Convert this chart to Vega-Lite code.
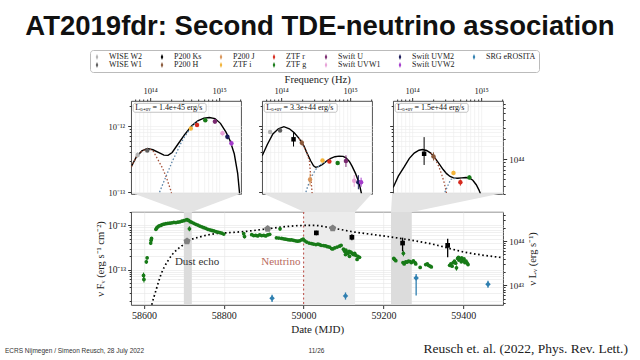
{
"$schema": "https://vega.github.io/schema/vega-lite/v6.json",
"background": "white",
"padding": {"left": 5, "right": 5, "top": 13, "bottom": 0},
"title": {"text": "AT2019fdr: Second TDE-neutrino association", "font": "Liberation Sans", "fontSize": 27.5, "fontWeight": "bold", "color": "#111111", "anchor": "middle", "offset": 9, "dx": -15},
"center": true,
"spacing": -8,
"datasets": {
"sed": [
{"p":1,"inst":"WISE W2","nu":6.6e13,"f":3.63e-13,"lo":3.3e-13,"hi":4.0e-13},
{"p":1,"inst":"WISE W1","nu":9.1e13,"f":4.27e-13},
{"p":1,"inst":"ZTF i","nu":3.89e14,"f":9.2e-13},
{"p":1,"inst":"ZTF r","nu":4.79e14,"f":1.035e-12},
{"p":1,"inst":"ZTF g","nu":6.31e14,"f":1.23e-12},
{"p":1,"inst":"Swift U","nu":8.71e14,"f":1.175e-12,"lo":1.08e-12,"hi":1.28e-12},
{"p":1,"inst":"Swift UVW1","nu":1.12e15,"f":7.8e-13,"lo":7.2e-13,"hi":8.5e-13},
{"p":1,"inst":"Swift UVM2","nu":1.32e15,"f":6.9e-13,"lo":6.3e-13,"hi":7.6e-13},
{"p":1,"inst":"Swift UVW2","nu":1.51e15,"f":5.5e-13,"lo":5.0e-13,"hi":6.0e-13},
{"p":2,"inst":"WISE W2","nu":6.92e13,"f":8.1e-13},
{"p":2,"inst":"WISE W1","nu":9.66e13,"f":8.6e-13},
{"p":2,"inst":"P200 Ks","nu":1.514e14,"f":6.3e-13,"lo":4.9e-13,"hi":8.1e-13},
{"p":2,"inst":"P200 H","nu":1.995e14,"f":5.6e-13,"lo":5.1e-13,"hi":6.2e-13},
{"p":2,"inst":"P200 J","nu":2.63e14,"f":1.55e-13,"lo":1.25e-13,"hi":1.9e-13},
{"p":2,"inst":"ZTF i","nu":3.98e14,"f":3.0e-13},
{"p":2,"inst":"ZTF r","nu":5.01e14,"f":2.9e-13},
{"p":2,"inst":"ZTF g","nu":6.61e14,"f":2.75e-13},
{"p":2,"inst":"Swift U","nu":8.71e14,"f":2.95e-13,"lo":2.4e-13,"hi":3.6e-13},
{"p":2,"inst":"Swift UVW1","nu":1.148e15,"f":1.48e-13,"lo":1.2e-13,"hi":1.8e-13},
{"p":2,"inst":"Swift UVM2","nu":1.318e15,"f":1.41e-13,"lo":1.1e-13,"hi":1.8e-13},
{"p":2,"inst":"Swift UVW2","nu":1.445e15,"f":1.41e-13,"lo":1.2e-13,"hi":1.65e-13},
{"p":3,"inst":"P200 Ks","nu":1.493e14,"f":3.8e-13,"lo":2.57e-13,"hi":6.8e-13},
{"p":3,"inst":"P200 H","nu":2.04e14,"f":3.47e-13,"lo":3.0e-13,"hi":4.0e-13},
{"p":3,"inst":"ZTF i","nu":3.98e14,"f":1.95e-13,"lo":1.8e-13,"hi":2.1e-13},
{"p":3,"inst":"ZTF r","nu":5.01e14,"f":1.41e-13,"lo":1.25e-13,"hi":1.55e-13},
{"p":3,"inst":"ZTF g","nu":6.76e14,"f":1.66e-13,"lo":1.55e-13,"hi":1.78e-13}
],
"curves": [
{"p":1,"c":"tot","nu":5.31e13,"f":2.4e-13},{"p":1,"c":"tot","nu":6.31e13,"f":3.4e-13},{"p":1,"c":"tot","nu":7.59e13,"f":4.2e-13},{"p":1,"c":"tot","nu":9.12e13,"f":4.57e-13},{"p":1,"c":"tot","nu":1.096e14,"f":4.37e-13},{"p":1,"c":"tot","nu":1.318e14,"f":3.98e-13},{"p":1,"c":"tot","nu":1.585e14,"f":3.63e-13},{"p":1,"c":"tot","nu":1.82e14,"f":3.6e-13},{"p":1,"c":"tot","nu":2.089e14,"f":3.98e-13},{"p":1,"c":"tot","nu":2.512e14,"f":5.25e-13},{"p":1,"c":"tot","nu":3.162e14,"f":7.4e-13},{"p":1,"c":"tot","nu":3.981e14,"f":1.0e-12},{"p":1,"c":"tot","nu":4.898e14,"f":1.2e-12},{"p":1,"c":"tot","nu":6.026e14,"f":1.32e-12},{"p":1,"c":"tot","nu":7.244e14,"f":1.35e-12},{"p":1,"c":"tot","nu":8.71e14,"f":1.3e-12},{"p":1,"c":"tot","nu":1.047e15,"f":1.1e-12},{"p":1,"c":"tot","nu":1.259e15,"f":8.1e-13},{"p":1,"c":"tot","nu":1.445e15,"f":6.0e-13},{"p":1,"c":"tot","nu":1.66e15,"f":3.8e-13},{"p":1,"c":"tot","nu":1.862e15,"f":1.9e-13},{"p":1,"c":"tot","nu":1.995e15,"f":8.9e-14},
{"p":1,"c":"dust","nu":5.31e13,"f":2.4e-13},{"p":1,"c":"dust","nu":6.31e13,"f":3.4e-13},{"p":1,"c":"dust","nu":7.59e13,"f":4.2e-13},{"p":1,"c":"dust","nu":9.12e13,"f":4.55e-13},{"p":1,"c":"dust","nu":1.096e14,"f":4.27e-13},{"p":1,"c":"dust","nu":1.318e14,"f":3.0e-13},{"p":1,"c":"dust","nu":1.514e14,"f":2.3e-13},{"p":1,"c":"dust","nu":1.738e14,"f":1.62e-13},{"p":1,"c":"dust","nu":1.995e14,"f":1.05e-13},{"p":1,"c":"dust","nu":2.138e14,"f":7.9e-14},
{"p":1,"c":"opt","nu":1.259e14,"f":7.9e-14},{"p":1,"c":"opt","nu":1.349e14,"f":9.5e-14},{"p":1,"c":"opt","nu":1.585e14,"f":1.45e-13},{"p":1,"c":"opt","nu":1.82e14,"f":2.04e-13},{"p":1,"c":"opt","nu":2.089e14,"f":2.9e-13},{"p":1,"c":"opt","nu":2.399e14,"f":3.9e-13},{"p":1,"c":"opt","nu":2.818e14,"f":5.6e-13},{"p":1,"c":"opt","nu":3.162e14,"f":6.9e-13},{"p":1,"c":"opt","nu":3.981e14,"f":9.8e-13},{"p":1,"c":"opt","nu":4.898e14,"f":1.19e-12},
{"p":2,"c":"tot","nu":5.31e13,"f":3.55e-13},{"p":2,"c":"tot","nu":6.31e13,"f":5.25e-13},{"p":2,"c":"tot","nu":7.59e13,"f":7.6e-13},{"p":2,"c":"tot","nu":9.12e13,"f":9.1e-13},{"p":2,"c":"tot","nu":1.096e14,"f":9.8e-13},{"p":2,"c":"tot","nu":1.318e14,"f":9.1e-13},{"p":2,"c":"tot","nu":1.549e14,"f":7.9e-13},{"p":2,"c":"tot","nu":1.82e14,"f":6.5e-13},{"p":2,"c":"tot","nu":2.138e14,"f":5.0e-13},{"p":2,"c":"tot","nu":2.399e14,"f":3.8e-13},{"p":2,"c":"tot","nu":2.692e14,"f":2.95e-13},{"p":2,"c":"tot","nu":2.951e14,"f":2.5e-13},{"p":2,"c":"tot","nu":3.162e14,"f":2.37e-13},{"p":2,"c":"tot","nu":3.548e14,"f":2.45e-13},{"p":2,"c":"tot","nu":3.981e14,"f":2.63e-13},{"p":2,"c":"tot","nu":4.571e14,"f":2.95e-13},{"p":2,"c":"tot","nu":5.248e14,"f":3.24e-13},{"p":2,"c":"tot","nu":6.026e14,"f":3.43e-13},{"p":2,"c":"tot","nu":6.918e14,"f":3.5e-13},{"p":2,"c":"tot","nu":7.943e14,"f":3.47e-13},{"p":2,"c":"tot","nu":8.71e14,"f":3.3e-13},{"p":2,"c":"tot","nu":9.772e14,"f":2.9e-13},{"p":2,"c":"tot","nu":1.072e15,"f":2.45e-13},{"p":2,"c":"tot","nu":1.202e15,"f":1.9e-13},{"p":2,"c":"tot","nu":1.349e15,"f":1.38e-13},{"p":2,"c":"tot","nu":1.445e15,"f":1.0e-13},{"p":2,"c":"tot","nu":1.549e15,"f":7.1e-14},
{"p":2,"c":"dust","nu":1.82e14,"f":6.5e-13},{"p":2,"c":"dust","nu":2.138e14,"f":4.9e-13},{"p":2,"c":"dust","nu":2.399e14,"f":3.7e-13},{"p":2,"c":"dust","nu":2.57e14,"f":2.95e-13},{"p":2,"c":"dust","nu":2.692e14,"f":1.7e-13},{"p":2,"c":"dust","nu":2.818e14,"f":9.5e-14},{"p":2,"c":"dust","nu":2.884e14,"f":7.5e-14},
{"p":2,"c":"opt","nu":2.138e14,"f":7.9e-14},{"p":2,"c":"opt","nu":2.399e14,"f":1.17e-13},{"p":2,"c":"opt","nu":2.692e14,"f":1.62e-13},{"p":2,"c":"opt","nu":3.162e14,"f":2.19e-13},{"p":2,"c":"opt","nu":3.548e14,"f":2.5e-13},{"p":2,"c":"opt","nu":3.981e14,"f":2.7e-13},{"p":2,"c":"opt","nu":4.571e14,"f":2.95e-13},
{"p":3,"c":"tot","nu":5.31e13,"f":1.17e-13},{"p":3,"c":"tot","nu":6.31e13,"f":1.74e-13},{"p":3,"c":"tot","nu":7.674e13,"f":2.4e-13},{"p":3,"c":"tot","nu":9.12e13,"f":3.24e-13},{"p":3,"c":"tot","nu":1.072e14,"f":3.9e-13},{"p":3,"c":"tot","nu":1.259e14,"f":4.3e-13},{"p":3,"c":"tot","nu":1.413e14,"f":4.4e-13},{"p":3,"c":"tot","nu":1.622e14,"f":4.27e-13},{"p":3,"c":"tot","nu":1.862e14,"f":3.9e-13},{"p":3,"c":"tot","nu":2.138e14,"f":3.3e-13},{"p":3,"c":"tot","nu":2.455e14,"f":2.7e-13},{"p":3,"c":"tot","nu":2.818e14,"f":2.19e-13},{"p":3,"c":"tot","nu":3.162e14,"f":1.9e-13},{"p":3,"c":"tot","nu":3.548e14,"f":1.72e-13},{"p":3,"c":"tot","nu":3.981e14,"f":1.64e-13},{"p":3,"c":"tot","nu":4.571e14,"f":1.62e-13},{"p":3,"c":"tot","nu":5.248e14,"f":1.64e-13},{"p":3,"c":"tot","nu":6.026e14,"f":1.66e-13},{"p":3,"c":"tot","nu":6.761e14,"f":1.64e-13},{"p":3,"c":"tot","nu":7.586e14,"f":1.51e-13},{"p":3,"c":"tot","nu":8.511e14,"f":1.29e-13},{"p":3,"c":"tot","nu":9.333e14,"f":1.07e-13},{"p":3,"c":"tot","nu":1.0e15,"f":8.9e-14},
{"p":3,"c":"dust","nu":1.862e14,"f":3.9e-13},{"p":3,"c":"dust","nu":2.138e14,"f":3.24e-13},{"p":3,"c":"dust","nu":2.455e14,"f":2.4e-13},{"p":3,"c":"dust","nu":2.692e14,"f":1.82e-13},{"p":3,"c":"dust","nu":2.884e14,"f":1.45e-13},{"p":3,"c":"dust","nu":3.09e14,"f":1.07e-13},{"p":3,"c":"dust","nu":3.236e14,"f":8.3e-14},
{"p":3,"c":"opt","nu":2.754e14,"f":7.9e-14},{"p":3,"c":"opt","nu":2.884e14,"f":9.1e-14},{"p":3,"c":"opt","nu":3.236e14,"f":1.2e-13},{"p":3,"c":"opt","nu":3.631e14,"f":1.55e-13},{"p":3,"c":"opt","nu":3.981e14,"f":1.6e-13},{"p":3,"c":"opt","nu":4.571e14,"f":1.62e-13}
],
"labs": [
{"p":1,"txt":"Lₒ₊ᵤᵥ = 1.4e+45 erg/s"},
{"p":2,"txt":"Lₒ₊ᵤᵥ = 3.3e+44 erg/s"},
{"p":3,"txt":"Lₒ₊ᵤᵥ = 1.5e+44 erg/s"}
],
"lc": [
{"inst":"ZTF g","mjd":58599,"F":7.4e-14,"lo":6.3e-14,"hi":8.6e-14},
{"inst":"ZTF g","mjd":58600,"F":6.0e-14,"lo":5.1e-14,"hi":7.0e-14},
{"inst":"ZTF g","mjd":58606,"F":1.5e-13,"lo":1.35e-13,"hi":1.68e-13},
{"inst":"ZTF g","mjd":58608,"F":1.85e-13,"lo":1.7e-13,"hi":2.0e-13},
{"inst":"ZTF g","mjd":58617,"F":4.0e-13,"lo":3.6e-13,"hi":4.45e-13},
{"inst":"ZTF g","mjd":58618,"F":4.6e-13},
{"inst":"ZTF g","mjd":58619,"F":5.1e-13,"lo":4.7e-13,"hi":5.5e-13},
{"inst":"ZTF g","mjd":58630,"F":8.2e-13},{"inst":"ZTF g","mjd":58632,"F":8.8e-13},{"inst":"ZTF g","mjd":58635,"F":9.3e-13},{"inst":"ZTF g","mjd":58638,"F":9.8e-13},{"inst":"ZTF g","mjd":58642,"F":1.0e-12},{"inst":"ZTF g","mjd":58646,"F":1.05e-12},{"inst":"ZTF g","mjd":58650,"F":1.07e-12},{"inst":"ZTF g","mjd":58655,"F":1.1e-12},{"inst":"ZTF g","mjd":58660,"F":1.12e-12},{"inst":"ZTF g","mjd":58665,"F":1.13e-12},{"inst":"ZTF g","mjd":58670,"F":1.15e-12},{"inst":"ZTF g","mjd":58675,"F":1.17e-12},{"inst":"ZTF g","mjd":58680,"F":1.16e-12},{"inst":"ZTF g","mjd":58685,"F":1.19e-12},{"inst":"ZTF g","mjd":58690,"F":1.21e-12},{"inst":"ZTF g","mjd":58695,"F":1.25e-12},{"inst":"ZTF g","mjd":58700,"F":1.28e-12},{"inst":"ZTF g","mjd":58705,"F":1.33e-12},{"inst":"ZTF g","mjd":58708,"F":1.36e-12},{"inst":"ZTF g","mjd":58712,"F":1.3e-12},
{"inst":"ZTF g","mjd":58714,"F":8.4e-13,"lo":7.4e-13,"hi":9.6e-13},
{"inst":"ZTF g","mjd":58716,"F":1.22e-12},{"inst":"ZTF g","mjd":58720,"F":1.18e-12},{"inst":"ZTF g","mjd":58725,"F":1.12e-12},{"inst":"ZTF g","mjd":58730,"F":1.06e-12},{"inst":"ZTF g","mjd":58735,"F":1.02e-12},{"inst":"ZTF g","mjd":58740,"F":9.7e-13},{"inst":"ZTF g","mjd":58745,"F":9.3e-13},{"inst":"ZTF g","mjd":58750,"F":8.9e-13},{"inst":"ZTF g","mjd":58755,"F":8.6e-13},{"inst":"ZTF g","mjd":58760,"F":8.2e-13},{"inst":"ZTF g","mjd":58765,"F":8.0e-13},{"inst":"ZTF g","mjd":58770,"F":7.7e-13},{"inst":"ZTF g","mjd":58775,"F":7.5e-13},{"inst":"ZTF g","mjd":58780,"F":7.3e-13},{"inst":"ZTF g","mjd":58785,"F":7.1e-13},{"inst":"ZTF g","mjd":58790,"F":6.9e-13},{"inst":"ZTF g","mjd":58795,"F":6.7e-13},{"inst":"ZTF g","mjd":58800,"F":6.4e-13},
{"inst":"ZTF g","mjd":58850,"F":6.5e-13},
{"inst":"ZTF g","mjd":58852,"F":5.6e-13,"lo":5.1e-13,"hi":6.1e-13},
{"inst":"ZTF g","mjd":58870,"F":6.2e-13},{"inst":"ZTF g","mjd":58875,"F":5.9e-13},{"inst":"ZTF g","mjd":58880,"F":6.0e-13},{"inst":"ZTF g","mjd":58885,"F":5.8e-13},{"inst":"ZTF g","mjd":58890,"F":6.1e-13},{"inst":"ZTF g","mjd":58895,"F":5.9e-13},{"inst":"ZTF g","mjd":58900,"F":6.0e-13},{"inst":"ZTF g","mjd":58905,"F":5.8e-13},{"inst":"ZTF g","mjd":58910,"F":6.1e-13},{"inst":"ZTF g","mjd":58915,"F":6.3e-13},
{"inst":"ZTF g","mjd":58941,"F":8.4e-13,"lo":7.6e-13,"hi":9.2e-13},
{"inst":"ZTF g","mjd":58932,"F":5.25e-13},{"inst":"ZTF g","mjd":58938,"F":5.2e-13},{"inst":"ZTF g","mjd":58945,"F":5.1e-13},{"inst":"ZTF g","mjd":58950,"F":5.0e-13},{"inst":"ZTF g","mjd":58955,"F":4.9e-13},{"inst":"ZTF g","mjd":58960,"F":4.8e-13},{"inst":"ZTF g","mjd":58965,"F":4.7e-13},{"inst":"ZTF g","mjd":58970,"F":4.7e-13},{"inst":"ZTF g","mjd":58975,"F":4.6e-13},{"inst":"ZTF g","mjd":58980,"F":4.5e-13},{"inst":"ZTF g","mjd":58985,"F":4.4e-13},{"inst":"ZTF g","mjd":58990,"F":4.5e-13},{"inst":"ZTF g","mjd":58995,"F":4.7e-13},{"inst":"ZTF g","mjd":58999,"F":4.9e-13},{"inst":"ZTF g","mjd":59003,"F":4.5e-13},{"inst":"ZTF g","mjd":59008,"F":4.2e-13},{"inst":"ZTF g","mjd":59014,"F":4.0e-13},{"inst":"ZTF g","mjd":59020,"F":3.9e-13},{"inst":"ZTF g","mjd":59025,"F":3.8e-13},{"inst":"ZTF g","mjd":59031,"F":3.7e-13},{"inst":"ZTF g","mjd":59036,"F":3.8e-13},{"inst":"ZTF g","mjd":59040,"F":3.7e-13},{"inst":"ZTF g","mjd":59044,"F":3.55e-13},{"inst":"ZTF g","mjd":59050,"F":3.5e-13},{"inst":"ZTF g","mjd":59055,"F":3.45e-13},{"inst":"ZTF g","mjd":59060,"F":3.3e-13},{"inst":"ZTF g","mjd":59065,"F":3.25e-13},{"inst":"ZTF g","mjd":59070,"F":3.0e-13},{"inst":"ZTF g","mjd":59073,"F":2.95e-13},{"inst":"ZTF g","mjd":59078,"F":3.1e-13},{"inst":"ZTF g","mjd":59084,"F":3.25e-13},{"inst":"ZTF g","mjd":59090,"F":3.4e-13},{"inst":"ZTF g","mjd":59094,"F":3.55e-13},
{"inst":"ZTF g","mjd":59100,"F":2.9e-13},{"inst":"ZTF g","mjd":59103,"F":2.6e-13},{"inst":"ZTF g","mjd":59105,"F":2.2e-13},{"inst":"ZTF g","mjd":59106,"F":2.75e-13},{"inst":"ZTF g","mjd":59109,"F":2.4e-13},{"inst":"ZTF g","mjd":59111,"F":2.3e-13},{"inst":"ZTF g","mjd":59114,"F":2.6e-13},{"inst":"ZTF g","mjd":59115,"F":2.0e-13},{"inst":"ZTF g","mjd":59117,"F":2.5e-13},{"inst":"ZTF g","mjd":59119,"F":2.45e-13},{"inst":"ZTF g","mjd":59122,"F":2.3e-13},{"inst":"ZTF g","mjd":59125,"F":2.2e-13},{"inst":"ZTF g","mjd":59128,"F":2.35e-13},{"inst":"ZTF g","mjd":59131,"F":2.1e-13},{"inst":"ZTF g","mjd":59134,"F":1.7e-13},{"inst":"ZTF g","mjd":59136,"F":2.0e-13},{"inst":"ZTF g","mjd":59140,"F":1.9e-13},
{"inst":"ZTF g","mjd":59226,"F":1.8e-13},{"inst":"ZTF g","mjd":59228,"F":1.7e-13},{"inst":"ZTF g","mjd":59231,"F":1.6e-13},{"inst":"ZTF g","mjd":59249,"F":1.45e-13},
{"inst":"ZTF g","mjd":59250,"F":2.35e-13,"lo":2.0e-13,"hi":2.7e-13},
{"inst":"ZTF g","mjd":59252,"F":1.35e-13},{"inst":"ZTF g","mjd":59256,"F":1.5e-13},{"inst":"ZTF g","mjd":59259,"F":1.48e-13},{"inst":"ZTF g","mjd":59263,"F":1.55e-13},{"inst":"ZTF g","mjd":59267,"F":1.52e-13},{"inst":"ZTF g","mjd":59270,"F":1.45e-13},{"inst":"ZTF g","mjd":59275,"F":1.58e-13},{"inst":"ZTF g","mjd":59279,"F":1.45e-13},{"inst":"ZTF g","mjd":59281,"F":1.35e-13},{"inst":"ZTF g","mjd":59292,"F":1.12e-13},{"inst":"ZTF g","mjd":59306,"F":1.3e-13},{"inst":"ZTF g","mjd":59310,"F":1.35e-13},{"inst":"ZTF g","mjd":59313,"F":1.25e-13},{"inst":"ZTF g","mjd":59317,"F":1.2e-13},{"inst":"ZTF g","mjd":59320,"F":1.15e-13},
{"inst":"ZTF g","mjd":59366,"F":1.25e-13},{"inst":"ZTF g","mjd":59369,"F":1.35e-13},{"inst":"ZTF g","mjd":59372,"F":1.2e-13},{"inst":"ZTF g","mjd":59375,"F":1.45e-13},{"inst":"ZTF g","mjd":59378,"F":1.55e-13},{"inst":"ZTF g","mjd":59381,"F":1.4e-13},
{"inst":"ZTF g","mjd":59383,"F":1.1e-13,"lo":0.95e-13,"hi":1.25e-13},
{"inst":"ZTF g","mjd":59386,"F":1.8e-13},{"inst":"ZTF g","mjd":59388,"F":1.9e-13},{"inst":"ZTF g","mjd":59389,"F":1.65e-13},{"inst":"ZTF g","mjd":59392,"F":1.75e-13},{"inst":"ZTF g","mjd":59395,"F":1.5e-13},{"inst":"ZTF g","mjd":59396,"F":1.85e-13},{"inst":"ZTF g","mjd":59398,"F":1.7e-13},{"inst":"ZTF g","mjd":59401,"F":1.6e-13},{"inst":"ZTF g","mjd":59402,"F":1.75e-13},{"inst":"ZTF g","mjd":59404,"F":1.45e-13},{"inst":"ZTF g","mjd":59407,"F":1.55e-13},{"inst":"ZTF g","mjd":59410,"F":1.4e-13},{"inst":"ZTF g","mjd":59412,"F":1.3e-13},
{"inst":"WISE","mjd":58708,"F":4.4e-13},{"inst":"WISE","mjd":58910,"F":8.4e-13},{"inst":"WISE","mjd":59073,"F":8.7e-13},
{"inst":"P200 Ks","mjd":59032,"F":6.8e-13,"lo":6.0e-13,"hi":7.6e-13},
{"inst":"P200 Ks","mjd":59121,"F":5.4e-13,"lo":4.6e-13,"hi":6.3e-13},
{"inst":"P200 Ks","mjd":59248,"F":4.0e-13,"lo":2.6e-13,"hi":5.3e-13},
{"inst":"P200 Ks","mjd":59361,"F":3.55e-13,"lo":1.9e-13,"hi":5.0e-13},
{"inst":"SRG eROSITA","mjd":58921,"F":2.25e-14,"lo":1.85e-14,"hi":2.7e-14},
{"inst":"SRG eROSITA","mjd":59105,"F":2.55e-14,"lo":2.1e-14,"hi":3.05e-14},
{"inst":"SRG eROSITA","mjd":59282,"F":6.5e-14,"lo":2.6e-14,"hi":8.0e-14},
{"inst":"SRG eROSITA","mjd":59462,"F":4.7e-14,"lo":3.9e-14,"hi":5.6e-14}
],
"model": [
{"mjd":58617,"F":1.3e-14},{"mjd":58620,"F":1.66e-14},{"mjd":58625,"F":2.4e-14},{"mjd":58631,"F":3.6e-14},{"mjd":58643,"F":7.9e-14},{"mjd":58650,"F":1.1e-13},{"mjd":58660,"F":1.58e-13},{"mjd":58670,"F":2.14e-13},{"mjd":58685,"F":2.95e-13},{"mjd":58695,"F":3.47e-13},{"mjd":58710,"F":4.4e-13},{"mjd":58743,"F":5.6e-13},{"mjd":58777,"F":6.5e-13},{"mjd":58810,"F":6.85e-13},{"mjd":58852,"F":7.3e-13},{"mjd":58910,"F":8.4e-13},{"mjd":58960,"F":9.5e-13},{"mjd":59000,"F":1.0e-12},{"mjd":59027,"F":1.0e-12},{"mjd":59073,"F":8.7e-13},{"mjd":59128,"F":7.1e-13},{"mjd":59194,"F":5.9e-13},{"mjd":59248,"F":5.0e-13},{"mjd":59319,"F":3.85e-13},{"mjd":59403,"F":2.5e-13},{"mjd":59500,"F":1.86e-13}
],
"bands": [
{"s":58700,"e":58720,"k":"a"},{"s":59002,"e":59129,"k":"b"},{"s":59219,"e":59271,"k":"a"}
],
"trap": [
{"id":1,"F":5.37e-12,"a":58572,"b":58845},{"id":1,"F":2.02e-12,"a":58700,"b":58720},
{"id":2,"F":5.37e-12,"a":58897,"b":59172},{"id":2,"F":2.02e-12,"a":59002,"b":59129},
{"id":3,"F":5.37e-12,"a":59222,"b":59497},{"id":3,"F":2.02e-12,"a":59219,"b":59271}
],
"notes": [
{"lab":"Dust echo","mjd":58733,"F":1.48e-13,"kind":"dust"},
{"lab":"Neutrino","mjd":58992,"F":1.48e-13,"kind":"nu"}
]
},
"vconcat": [
{
"bounds": "flush",
"spacing": 21,
"hconcat": [
{
"width": 110, "height": 93,
"layer": [
{"data":{"name":"curves"},"transform":[{"filter":"datum.p==1 && datum.c=='tot'"}],"mark":{"type":"line","color":"#000000","strokeWidth":1.4,"clip":true},
"encoding":{
"x":{"field":"nu","type":"quantitative","scale":{"type":"log","domain":[5.31e13,2.09e15],"nice":false},"axis":{"orient":"top","values":[6e13,7e13,8e13,9e13,1e14,2e14,3e14,4e14,5e14,6e14,7e14,8e14,9e14,1e15,2e15],"labelExpr":"datum.value==1e14?'10¹⁴':datum.value==1e15?'10¹⁵':''","title":null,"labelFontSize":8.5,"labelPadding":2,"labelOverlap":false,"tickSize":{"condition":{"test":"datum.value==1e14||datum.value==1e15","value":3.5},"value":2},"gridColor":"#ececec"}},
"y":{"field":"f","type":"quantitative","scale":{"type":"log","domain":[9.33e-14,2.4e-12],"nice":false},"axis":{"values":[1e-13,2e-13,3e-13,4e-13,5e-13,6e-13,7e-13,8e-13,9e-13,1e-12,2e-12],"labelExpr":"datum.value==1e-12?'10⁻¹²':datum.value==1e-13?'10⁻¹³':''","title":null,"labelFontSize":8.5,"labelPadding":3,"labelOverlap":false,"tickSize":{"condition":{"test":"datum.value==1e-12||datum.value==1e-13","value":3.5},"value":2},"gridColor":"#ececec"}}}},
{"data":{"name":"curves"},"transform":[{"filter":"datum.p==1 && datum.c=='dust'"}],"mark":{"type":"line","color":"#a5523a","strokeDash":[1.5,2],"strokeWidth":1.3,"clip":true},"encoding":{"x":{"field":"nu","type":"quantitative"},"y":{"field":"f","type":"quantitative"}}},
{"data":{"name":"curves"},"transform":[{"filter":"datum.p==1 && datum.c=='opt'"}],"mark":{"type":"line","color":"#5b84a8","strokeDash":[1.5,2],"strokeWidth":1.3,"clip":true},"encoding":{"x":{"field":"nu","type":"quantitative"},"y":{"field":"f","type":"quantitative"}}},
{"data":{"name":"sed"},"transform":[{"filter":"datum.p==1"}],"mark":{"type":"point","filled":true,"size":20,"opacity":1},"encoding":{"x":{"field":"nu","type":"quantitative"},"y":{"field":"f","type":"quantitative"},
"color":{"field":"inst","type":"nominal","scale":{"domain":["WISE W2","P200 Ks","P200 J","ZTF r","Swift U","Swift UVM2","SRG eROSITA","WISE W1","P200 H","ZTF i","ZTF g","Swift UVW1","Swift UVW2"],"range":["#b3b3b3","#000000","#d9955a","#d62b1f","#7a2a70","#1c1a5a","#2f7fb0","#5f5f5f","#8b5a3c","#f2b43a","#177a17","#e8a2d8","#a53ccc"]},"legend":{"title":null,"orient":"none","legendX":85,"legendY":-51,"direction":"horizontal","columns":7,"labelFont":"Liberation Serif","labelFontSize":8,"labelColor":"#222222","symbolType":"M0,-1L0.42,0L0,1L-0.42,0Z","symbolSize":35,"symbolStrokeWidth":0,"columnPadding":15,"rowPadding":0,"padding":3,"strokeColor":"#bbbbbb","fillColor":"#ffffff","cornerRadius":3,"labelOffset":8}},
"shape":{"condition":{"test":"datum.inst=='P200 Ks'","value":"square"},"value":"circle"}}},
{"data":{"name":"sed"},"transform":[{"filter":"datum.p==1 && isValid(datum.lo)"}],"mark":{"type":"rule","strokeWidth":1},"encoding":{"x":{"field":"nu","type":"quantitative"},"y":{"field":"lo","type":"quantitative"},"y2":{"field":"hi"},"color":{"field":"inst","type":"nominal"}}},
{"data":{"values":[{}]},"mark":{"type":"rect","fill":"#ffffff","stroke":"#aaaaaa","strokeWidth":0.7,"cornerRadius":2},"encoding":{"x":{"datum":5.68e13,"type":"quantitative"},"x2":{"datum":6.5e14},"y":{"datum":2.21e-12,"type":"quantitative"},"y2":{"datum":1.62e-12}}},
{"data":{"name":"labs"},"transform":[{"filter":"datum.p==1"}],"mark":{"type":"text","align":"left","baseline":"middle","font":"Liberation Serif","fontSize":8,"color":"#111111"},"encoding":{"x":{"datum":6.1e13,"type":"quantitative"},"y":{"datum":1.89e-12,"type":"quantitative"},"text":{"field":"txt"}}}
]
},
{
"width": 110, "height": 93,
"layer": [
{"data":{"name":"curves"},"transform":[{"filter":"datum.p==2 && datum.c=='tot'"}],"mark":{"type":"line","color":"#000000","strokeWidth":1.4,"clip":true},
"encoding":{
"x":{"field":"nu","type":"quantitative","scale":{"type":"log","domain":[5.31e13,2.09e15],"nice":false},"axis":{"orient":"top","values":[6e13,7e13,8e13,9e13,1e14,2e14,3e14,4e14,5e14,6e14,7e14,8e14,9e14,1e15,2e15],"labelExpr":"datum.value==1e14?'10¹⁴':datum.value==1e15?'10¹⁵':''","title":"Frequency (Hz)","titleFontSize":10.5,"titlePadding":2,"labelFontSize":8.5,"labelPadding":2,"labelOverlap":false,"tickSize":{"condition":{"test":"datum.value==1e14||datum.value==1e15","value":3.5},"value":2},"gridColor":"#ececec"}},
"y":{"field":"f","type":"quantitative","scale":{"type":"log","domain":[9.33e-14,2.4e-12],"nice":false},"axis":{"values":[1e-13,2e-13,3e-13,4e-13,5e-13,6e-13,7e-13,8e-13,9e-13,1e-12,2e-12],"labels":false,"title":null,"tickSize":{"condition":{"test":"datum.value==1e-12||datum.value==1e-13","value":3.5},"value":2},"gridColor":"#ececec"}}}},
{"data":{"name":"curves"},"transform":[{"filter":"datum.p==2 && datum.c=='dust'"}],"mark":{"type":"line","color":"#a5523a","strokeDash":[1.5,2],"strokeWidth":1.3,"clip":true},"encoding":{"x":{"field":"nu","type":"quantitative"},"y":{"field":"f","type":"quantitative"}}},
{"data":{"name":"curves"},"transform":[{"filter":"datum.p==2 && datum.c=='opt'"}],"mark":{"type":"line","color":"#5b84a8","strokeDash":[1.5,2],"strokeWidth":1.3,"clip":true},"encoding":{"x":{"field":"nu","type":"quantitative"},"y":{"field":"f","type":"quantitative"}}},
{"data":{"name":"sed"},"transform":[{"filter":"datum.p==2"}],"mark":{"type":"point","filled":true,"size":20,"opacity":1},"encoding":{"x":{"field":"nu","type":"quantitative"},"y":{"field":"f","type":"quantitative"},
"color":{"field":"inst","type":"nominal","legend":{"title":null,"orient":"none","legendX":85,"legendY":-51,"direction":"horizontal","columns":7,"labelFont":"Liberation Serif","labelFontSize":8,"labelColor":"#222222","symbolType":"M0,-1L0.42,0L0,1L-0.42,0Z","symbolSize":35,"symbolStrokeWidth":0,"columnPadding":15,"rowPadding":0,"padding":3,"strokeColor":"#bbbbbb","fillColor":"#ffffff","cornerRadius":3,"labelOffset":8}},
"shape":{"condition":{"test":"datum.inst=='P200 Ks'","value":"square"},"value":"circle"}}},
{"data":{"name":"sed"},"transform":[{"filter":"datum.p==2 && isValid(datum.lo)"}],"mark":{"type":"rule","strokeWidth":1},"encoding":{"x":{"field":"nu","type":"quantitative"},"y":{"field":"lo","type":"quantitative"},"y2":{"field":"hi"},"color":{"field":"inst","type":"nominal"}}},
{"data":{"values":[{}]},"mark":{"type":"rect","fill":"#ffffff","stroke":"#aaaaaa","strokeWidth":0.7,"cornerRadius":2},"encoding":{"x":{"datum":5.68e13,"type":"quantitative"},"x2":{"datum":6.5e14},"y":{"datum":2.21e-12,"type":"quantitative"},"y2":{"datum":1.62e-12}}},
{"data":{"name":"labs"},"transform":[{"filter":"datum.p==2"}],"mark":{"type":"text","align":"left","baseline":"middle","font":"Liberation Serif","fontSize":8,"color":"#111111"},"encoding":{"x":{"datum":6.1e13,"type":"quantitative"},"y":{"datum":1.89e-12,"type":"quantitative"},"text":{"field":"txt"}}}
]
},
{
"width": 110, "height": 93,
"resolve": {"scale": {"y": "independent"}},
"layer": [
{"layer": [
{"data":{"name":"curves"},"transform":[{"filter":"datum.p==3 && datum.c=='tot'"}],"mark":{"type":"line","color":"#000000","strokeWidth":1.4,"clip":true},
"encoding":{
"x":{"field":"nu","type":"quantitative","scale":{"type":"log","domain":[5.31e13,2.09e15],"nice":false},"axis":{"orient":"top","values":[6e13,7e13,8e13,9e13,1e14,2e14,3e14,4e14,5e14,6e14,7e14,8e14,9e14,1e15,2e15],"labelExpr":"datum.value==1e14?'10¹⁴':datum.value==1e15?'10¹⁵':''","title":null,"labelFontSize":8.5,"labelPadding":2,"labelOverlap":false,"tickSize":{"condition":{"test":"datum.value==1e14||datum.value==1e15","value":3.5},"value":2},"gridColor":"#ececec"}},
"y":{"field":"f","type":"quantitative","scale":{"type":"log","domain":[9.33e-14,2.4e-12],"nice":false},"axis":{"orient":"left","values":[1e-13,2e-13,3e-13,4e-13,5e-13,6e-13,7e-13,8e-13,9e-13,1e-12,2e-12],"labels":false,"title":null,"tickSize":{"condition":{"test":"datum.value==1e-12||datum.value==1e-13","value":3.5},"value":2},"gridColor":"#ececec"}}}},
{"data":{"name":"curves"},"transform":[{"filter":"datum.p==3 && datum.c=='dust'"}],"mark":{"type":"line","color":"#a5523a","strokeDash":[1.5,2],"strokeWidth":1.3,"clip":true},"encoding":{"x":{"field":"nu","type":"quantitative"},"y":{"field":"f","type":"quantitative"}}},
{"data":{"name":"curves"},"transform":[{"filter":"datum.p==3 && datum.c=='opt'"}],"mark":{"type":"line","color":"#5b84a8","strokeDash":[1.5,2],"strokeWidth":1.3,"clip":true},"encoding":{"x":{"field":"nu","type":"quantitative"},"y":{"field":"f","type":"quantitative"}}},
{"data":{"name":"sed"},"transform":[{"filter":"datum.p==3"}],"mark":{"type":"point","filled":true,"size":20,"opacity":1},"encoding":{"x":{"field":"nu","type":"quantitative"},"y":{"field":"f","type":"quantitative"},
"color":{"field":"inst","type":"nominal","legend":{"title":null,"orient":"none","legendX":85,"legendY":-51,"direction":"horizontal","columns":7,"labelFont":"Liberation Serif","labelFontSize":8,"labelColor":"#222222","symbolType":"M0,-1L0.42,0L0,1L-0.42,0Z","symbolSize":35,"symbolStrokeWidth":0,"columnPadding":15,"rowPadding":0,"padding":3,"strokeColor":"#bbbbbb","fillColor":"#ffffff","cornerRadius":3,"labelOffset":8}},
"shape":{"condition":{"test":"datum.inst=='P200 Ks'","value":"square"},"value":"circle"}}},
{"data":{"name":"sed"},"transform":[{"filter":"datum.p==3 && isValid(datum.lo)"}],"mark":{"type":"rule","strokeWidth":1},"encoding":{"x":{"field":"nu","type":"quantitative"},"y":{"field":"lo","type":"quantitative"},"y2":{"field":"hi"},"color":{"field":"inst","type":"nominal"}}},
{"data":{"values":[{}]},"mark":{"type":"rect","fill":"#ffffff","stroke":"#aaaaaa","strokeWidth":0.7,"cornerRadius":2},"encoding":{"x":{"datum":5.68e13,"type":"quantitative"},"x2":{"datum":6.5e14},"y":{"datum":2.21e-12,"type":"quantitative"},"y2":{"datum":1.62e-12}}},
{"data":{"name":"labs"},"transform":[{"filter":"datum.p==3"}],"mark":{"type":"text","align":"left","baseline":"middle","font":"Liberation Serif","fontSize":8,"color":"#111111"},"encoding":{"x":{"datum":6.1e13,"type":"quantitative"},"y":{"datum":1.89e-12,"type":"quantitative"},"text":{"field":"txt"}}}
]},
{"data":{"values":[{}]},"mark":{"type":"rule","opacity":0},"encoding":{"y":{"datum":1e44,"type":"quantitative","scale":{"type":"log","domain":[2.98e43,7.66e44],"nice":false},"axis":{"orient":"right","values":[3e43,4e43,5e43,6e43,7e43,8e43,9e43,1e44,2e44,3e44,4e44,5e44,6e44,7e44],"labelExpr":"datum.value==1e44?'10⁴⁴':''","title":"L","titleOpacity":0,"titleAngle":270,"titleBaseline":"top","titleFontSize":10.5,"titlePadding":4,"grid":false,"labelFontSize":9,"labelPadding":2,"labelOverlap":false,"tickSize":{"condition":{"test":"datum.value==1e44","value":3.5},"value":2}}}}}
]
}
]
},
{
"width": 372, "height": 93,
"resolve": {"scale": {"y": "independent"}},
"layer": [
{"layer": [
{"data":{"name":"bands"},"transform":[{"filter":"datum.k=='a'"}],"mark":{"type":"rect","fill":"#dcdcdc"},"encoding":{"x":{"field":"s","type":"quantitative","scale":{"domain":[58568,59500],"nice":false,"zero":false},"axis":{"values":[58600,58800,59000,59200,59400],"format":"d","title":"Date (MJD)","titleFontSize":11,"titlePadding":3,"labelFontSize":10,"labelPadding":2,"tickSize":3.5,"gridColor":"#e6e6e6"}},"x2":{"field":"e"}}},
{"data":{"name":"bands"},"transform":[{"filter":"datum.k=='b'"}],"mark":{"type":"rect","fill":"#ececec"},"encoding":{"x":{"field":"s","type":"quantitative"},"x2":{"field":"e"}}},
{"data":{"name":"trap"},"mark":{"type":"area","orient":"horizontal","fill":"#e4e4e4","clip":false},"encoding":{
"y":{"field":"F","type":"quantitative","scale":{"type":"log","domain":[1.585e-14,2.018e-12],"nice":false},"axis":{"values":[2e-14,3e-14,4e-14,5e-14,6e-14,7e-14,8e-14,9e-14,1e-13,2e-13,3e-13,4e-13,5e-13,6e-13,7e-13,8e-13,9e-13,1e-12,2e-12],"labelExpr":"datum.value==1e-12?'10⁻¹²':datum.value==1e-13?'10⁻¹³':''","title":"ν Fᵥ (erg s⁻¹ cm⁻²)","titleFontSize":10.5,"titlePadding":2,"labelFontSize":9.5,"labelPadding":2,"labelOverlap":false,"tickSize":{"condition":{"test":"datum.value==1e-12||datum.value==1e-13","value":3.5},"value":2},"gridColor":"#e6e6e6"}},
"x":{"field":"a","type":"quantitative"},"x2":{"field":"b"},"detail":{"field":"id","type":"nominal"}}},
{"data":{"values":[{"t":59000}]},"mark":{"type":"rule","color":"#c0605a","strokeDash":[2,2.5],"strokeWidth":1.2},"encoding":{"x":{"field":"t","type":"quantitative"}}},
{"data":{"name":"model"},"mark":{"type":"line","color":"#000000","strokeDash":[1.6,2.6],"strokeWidth":1.7,"interpolate":"monotone","clip":true},"encoding":{"x":{"field":"mjd","type":"quantitative"},"y":{"field":"F","type":"quantitative"}}},
{"data":{"name":"lc"},"transform":[{"filter":"datum.inst=='ZTF g' && isValid(datum.lo)"}],"mark":{"type":"rule","color":"#177a17","strokeWidth":1},"encoding":{"x":{"field":"mjd","type":"quantitative"},"y":{"field":"lo","type":"quantitative"},"y2":{"field":"hi"}}},
{"data":{"name":"lc"},"transform":[{"filter":"datum.inst=='ZTF g'"}],"mark":{"type":"point","shape":"circle","filled":true,"size":14,"color":"#177a17","opacity":1},"encoding":{"x":{"field":"mjd","type":"quantitative"},"y":{"field":"F","type":"quantitative"}}},
{"data":{"name":"lc"},"transform":[{"filter":"datum.inst=='WISE'"}],"mark":{"type":"point","shape":"M0,-1L0.951,-0.309L0.588,0.809L-0.588,0.809L-0.951,-0.309Z","filled":true,"size":55,"color":"#808080","opacity":1},"encoding":{"x":{"field":"mjd","type":"quantitative"},"y":{"field":"F","type":"quantitative"}}},
{"data":{"name":"lc"},"transform":[{"filter":"datum.inst=='P200 Ks'"}],"mark":{"type":"rule","color":"#000000","strokeWidth":1.3},"encoding":{"x":{"field":"mjd","type":"quantitative"},"y":{"field":"lo","type":"quantitative"},"y2":{"field":"hi"}}},
{"data":{"name":"lc"},"transform":[{"filter":"datum.inst=='P200 Ks'"}],"mark":{"type":"point","shape":"square","filled":true,"size":22,"color":"#000000","opacity":1},"encoding":{"x":{"field":"mjd","type":"quantitative"},"y":{"field":"F","type":"quantitative"}}},
{"data":{"name":"lc"},"transform":[{"filter":"datum.inst=='SRG eROSITA'"}],"mark":{"type":"rule","color":"#2f7fb0","strokeWidth":1.3},"encoding":{"x":{"field":"mjd","type":"quantitative"},"y":{"field":"lo","type":"quantitative"},"y2":{"field":"hi"}}},
{"data":{"name":"lc"},"transform":[{"filter":"datum.inst=='SRG eROSITA'"}],"mark":{"type":"point","shape":"diamond","filled":true,"size":30,"color":"#2f7fb0","opacity":1},"encoding":{"x":{"field":"mjd","type":"quantitative"},"y":{"field":"F","type":"quantitative"}}},
{"data":{"name":"notes"},"transform":[{"filter":"datum.kind=='dust'"}],"mark":{"type":"text","align":"center","baseline":"middle","font":"Liberation Serif","fontSize":11,"color":"#333333"},"encoding":{"x":{"field":"mjd","type":"quantitative"},"y":{"field":"F","type":"quantitative"},"text":{"field":"lab"}}},
{"data":{"name":"notes"},"transform":[{"filter":"datum.kind=='nu'"}],"mark":{"type":"text","align":"right","baseline":"middle","font":"Liberation Serif","fontSize":11,"color":"#b86a5e"},"encoding":{"x":{"field":"mjd","type":"quantitative"},"y":{"field":"F","type":"quantitative"},"text":{"field":"lab"}}}
]},
{"data":{"values":[{}]},"mark":{"type":"rule","opacity":0},"encoding":{"y":{"datum":1e44,"type":"quantitative","scale":{"type":"log","domain":[3.59e42,4.57e44],"nice":false},"axis":{"orient":"right","values":[4e42,5e42,6e42,7e42,8e42,9e42,1e43,2e43,3e43,4e43,5e43,6e43,7e43,8e43,9e43,1e44,2e44,3e44,4e44],"labelExpr":"datum.value==1e44?'10⁴⁴':datum.value==1e43?'10⁴³':''","title":"ν Lᵥ (erg s⁻¹)","titleAngle":270,"titleBaseline":"top","titleFontSize":10.5,"titlePadding":4,"grid":false,"labelFontSize":9,"labelPadding":2,"labelOverlap":false,"tickSize":{"condition":{"test":"datum.value==1e44||datum.value==1e43","value":3.5},"value":2}}}}}
]
},
{
"width": 660, "height": 32,
"view": {"stroke": null},
"data": {"values": [
{"pos":"left","label":"ECRS Nijmegen / Simeon Reusch, 28 July 2022"},
{"pos":"center","label":"11/26"},
{"pos":"right","label":"Reusch et. al. (2022, Phys. Rev. Lett.)"}
]},
"layer": [
{"transform":[{"filter":"datum.pos=='left'"}],"mark":{"type":"text","align":"left","baseline":"middle","font":"Liberation Sans","fontSize":6.5,"color":"#333333"},"encoding":{"x":{"field":"pos","type":"nominal","scale":{"type":"point","domain":["left","center","right"],"padding":0.0594,"align":0},"axis":null},"text":{"field":"label"}}},
{"transform":[{"filter":"datum.pos=='center'"}],"mark":{"type":"text","align":"center","baseline":"middle","font":"Liberation Sans","fontSize":6.5,"color":"#333333"},"encoding":{"x":{"field":"pos","type":"nominal"},"text":{"field":"label"}}},
{"transform":[{"filter":"datum.pos=='right'"}],"mark":{"type":"text","align":"right","baseline":"middle","font":"Liberation Serif","fontSize":13.5,"color":"#222222","dy":-2},"encoding":{"x":{"field":"pos","type":"nominal"},"text":{"field":"label"}}}
]
}
],
"config": {
"font": "Liberation Serif",
"view": {"stroke": "#222222", "strokeWidth": 0.8},
"axis": {"domain": false, "labelFont": "Liberation Serif", "titleFont": "Liberation Serif", "titleFontWeight": "normal", "labelColor": "#222222", "titleColor": "#222222", "tickColor": "#333333", "gridWidth": 0.6}
}
}
